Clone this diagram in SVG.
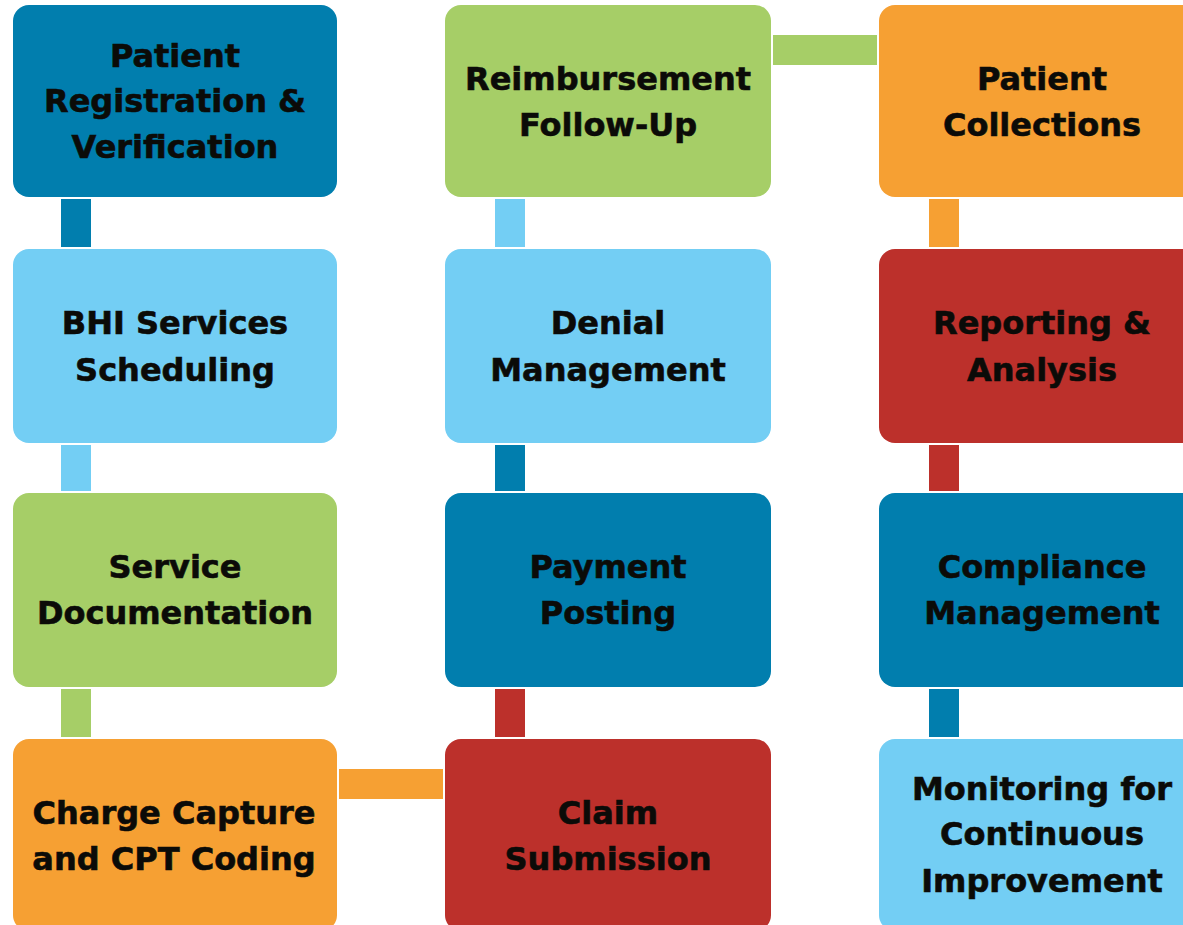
<svg xmlns="http://www.w3.org/2000/svg" width="1183" height="925" viewBox="0 0 1183 925">
<style>
.t{font-family:"DejaVu Sans","Liberation Sans",sans-serif;font-weight:bold;font-size:32px;fill:#0b0b08;stroke:#0b0b08;stroke-width:0.6;text-anchor:middle}
.db{fill:#017EAE}.lb{fill:#73CEF4}.gr{fill:#A6CE67}.or{fill:#F6A033}.rd{fill:#BC302B}
</style>
<rect width="1183" height="925" fill="#fff"/>
<g id="connectors">
<rect class="db" x="61" y="199" width="30" height="48"/>
<rect class="lb" x="61" y="445" width="30" height="46"/>
<rect class="gr" x="61" y="689" width="30" height="48"/>
<rect class="or" x="339" y="769" width="104" height="30"/>
<rect class="rd" x="495" y="689" width="30" height="48"/>
<rect class="db" x="495" y="445" width="30" height="46"/>
<rect class="lb" x="495" y="199" width="30" height="48"/>
<rect class="gr" x="773" y="35" width="104" height="30"/>
<rect class="or" x="929" y="199" width="30" height="48"/>
<rect class="rd" x="929" y="445" width="30" height="46"/>
<rect class="db" x="929" y="689" width="30" height="48"/>
</g>
<g id="n1"><rect class="db" x="13" y="5" width="324" height="192" rx="16"/>
<text class="t" x="175" y="67">Patient</text><text class="t" x="175" y="112">Registration &amp;</text><text class="t" x="175" y="158">Verification</text></g>
<g id="n2"><rect class="lb" x="13" y="249" width="324" height="194" rx="16"/>
<text class="t" x="175" y="334">BHI Services</text><text class="t" x="175" y="381">Scheduling</text></g>
<g id="n3"><rect class="gr" x="13" y="493" width="324" height="194" rx="16"/>
<text class="t" x="175" y="578">Service</text><text class="t" x="175" y="624">Documentation</text></g>
<g id="n4"><rect class="or" x="13" y="739" width="324" height="192" rx="16"/>
<text class="t" x="174" y="824">Charge Capture</text><text class="t" x="174" y="870">and CPT Coding</text></g>
<g id="n5"><rect class="rd" x="445" y="739" width="326" height="192" rx="16"/>
<text class="t" x="608" y="824">Claim</text><text class="t" x="608" y="870">Submission</text></g>
<g id="n6"><rect class="db" x="445" y="493" width="326" height="194" rx="16"/>
<text class="t" x="608" y="578">Payment</text><text class="t" x="608" y="624">Posting</text></g>
<g id="n7"><rect class="lb" x="445" y="249" width="326" height="194" rx="16"/>
<text class="t" x="608" y="334">Denial</text><text class="t" x="608" y="381">Management</text></g>
<g id="n8"><rect class="gr" x="445" y="5" width="326" height="192" rx="16"/>
<text class="t" x="608" y="90">Reimbursement</text><text class="t" x="608" y="136">Follow-Up</text></g>
<g id="n9"><rect class="or" x="879" y="5" width="326" height="192" rx="16"/>
<text class="t" x="1042" y="90">Patient</text><text class="t" x="1042" y="136">Collections</text></g>
<g id="n10"><rect class="rd" x="879" y="249" width="326" height="194" rx="16"/>
<text class="t" x="1042" y="334">Reporting &amp;</text><text class="t" x="1042" y="381">Analysis</text></g>
<g id="n11"><rect class="db" x="879" y="493" width="326" height="194" rx="16"/>
<text class="t" x="1042" y="578">Compliance</text><text class="t" x="1042" y="624">Management</text></g>
<g id="n12"><rect class="lb" x="879" y="739" width="326" height="192" rx="16"/>
<text class="t" x="1042" y="800">Monitoring for</text><text class="t" x="1042" y="845">Continuous</text><text class="t" x="1042" y="892">Improvement</text></g>
</svg>
